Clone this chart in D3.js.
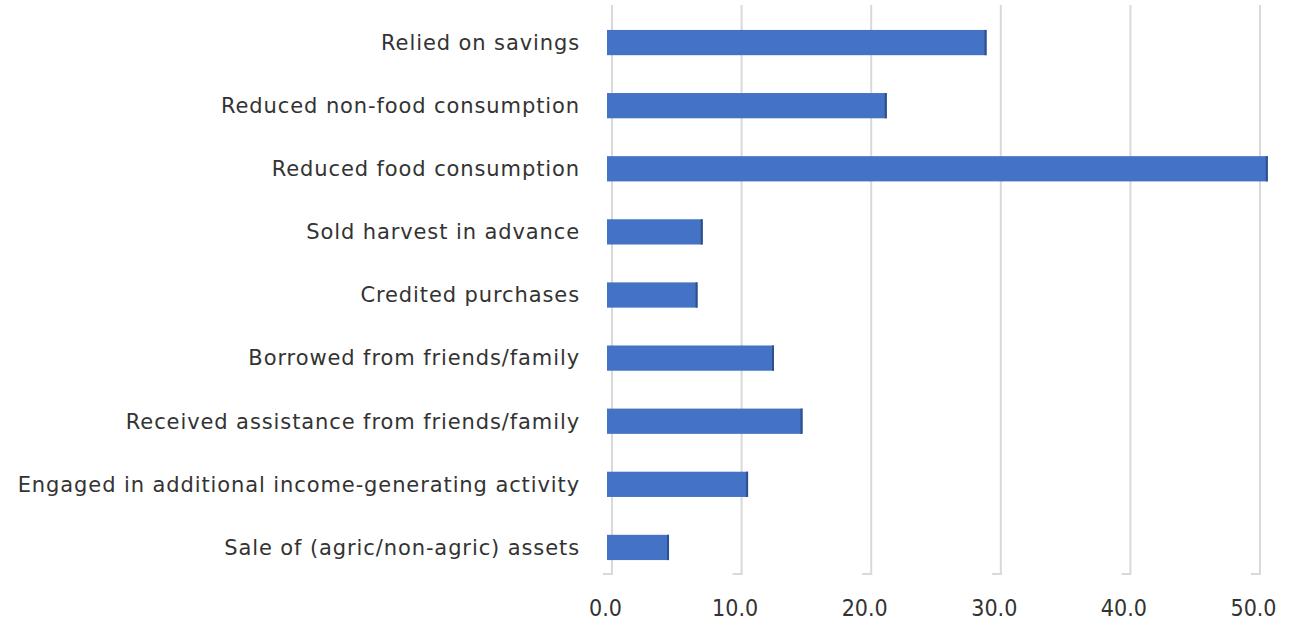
<!DOCTYPE html>
<html>
  <head>
    <script src="https://d3js.org/d3.v7.min.js"></script>
    <style>
      body { margin: 0; background: #fff; }
      text { font-family: "DejaVu Sans", sans-serif; fill: #333; }
    </style>
  </head>
  <body>
    <svg id="chart" width="1301" height="628"></svg>

  <script>
  // categories, top to bottom
  var categories = [
    "Relied on savings",
    "Reduced non-food consumption",
    "Reduced food consumption",
    "Sold harvest in advance",
    "Credited purchases",
    "Borrowed from friends/family",
    "Received assistance from friends/family",
    "Engaged in additional income-generating activity",
    "Sale of (agric/non-agric) assets"
  ];
  // percent of households
  var values = [28.9, 21.2, 50.6, 7.0, 6.6, 12.5, 14.7, 10.5, 4.4];
  var ticks = [0, 10, 20, 30, 40, 50];

  var svg = d3.select("#chart");

  var x = d3.scaleLinear()
    .domain([0, 50])
    .range([612, 1260]);

  var y = d3.scaleBand()
    .domain(categories)
    .range([11, 579])
    .paddingInner(0.6)
    .paddingOuter(0.3);

  // gridlines + little hook at the bottom
  var grid = svg.append("g");
  grid.selectAll("line.v")
    .data(ticks)
    .enter().append("line")
      .attr("class", "v")
      .attr("x1", function(d) { return x(d); })
      .attr("x2", function(d) { return x(d); })
      .attr("y1", 5)
      .attr("y2", 574)
      .attr("stroke", "#d9d9d9")
      .attr("stroke-width", 2);
  grid.selectAll("line.h")
    .data(ticks)
    .enter().append("line")
      .attr("class", "h")
      .attr("x1", function(d) { return x(d) - 9; })
      .attr("x2", function(d) { return x(d) + 1; })
      .attr("y1", 574)
      .attr("y2", 574)
      .attr("stroke", "#d9d9d9")
      .attr("stroke-width", 2);

  // bars
  var bars = svg.append("g")
    .selectAll("g")
    .data(values)
    .enter().append("g");

  bars.append("rect")
    .attr("x", x(0) - 5)
    .attr("y", function(d, i) { return y(categories[i]); })
    .attr("width", function(d) { return x(d) - x(0) + 5; })
    .attr("height", y.bandwidth())
    .attr("fill", "#4472c4");

  // darker edge at bar end
  bars.append("rect")
    .attr("x", function(d) { return x(d) - 2; })
    .attr("y", function(d, i) { return y(categories[i]); })
    .attr("width", 2)
    .attr("height", y.bandwidth())
    .attr("fill", "#2f4f8f");

  // category labels
  svg.append("g")
    .selectAll("text")
    .data(categories)
    .enter().append("text")
      .attr("x", 580)
      .attr("y", function(d) { return y(d) + y.bandwidth() / 2; })
      .attr("dy", "0.35em")
      .attr("text-anchor", "end")
      .style("font-size", "21px")
      .style("letter-spacing", "0.9px")
      .text(function(d) { return d; });

  // x tick labels
  var xAxis = svg.append("g")
    .attr("transform", "translate(-7,600)")
    .call(d3.axisBottom(x).tickValues(ticks).tickFormat(d3.format(".1f")).tickSize(0).tickPadding(0));
  xAxis.select(".domain").remove();
  xAxis.selectAll("text")
    .style("font-size", "23px")
    .style("font-family", "\"DejaVu Sans Condensed\", sans-serif")
    .attr("fill", "#333");
  </script>
  </body>
</html>
